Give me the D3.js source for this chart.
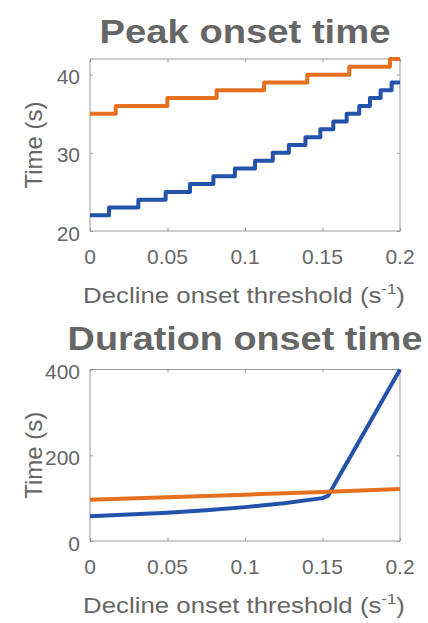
<!DOCTYPE html>
<html><head><meta charset="utf-8">
<script src="https://cdn.jsdelivr.net/npm/d3@7"></script>
<style>
html,body{margin:0;padding:0;background:#fff;}
svg{display:block;font-family:"Liberation Sans",Arial,Helvetica,sans-serif;}
</style></head>
<body><svg id="c" width="428" height="623"></svg>
<script>
// ---- data ----
const xTicks = [0, 0.05, 0.1, 0.15, 0.2];
const xTickLabels = ["0", "0.05", "0.1", "0.15", "0.2"];
const peakYTicks = [20, 30, 40];
const durYTicks = [0, 200, 400];

// Peak onset time (staircases)
const peakBlueX = [0, 0.0123, 0.0312, 0.0488, 0.0645, 0.0796, 0.0935, 0.1065, 0.1179, 0.1283, 0.139, 0.1486, 0.157, 0.1656, 0.1737, 0.1806, 0.1875, 0.1946, 0.2];
const peakBlueY = [22, 23, 24, 25, 26, 27, 28, 29, 30, 31, 32, 33, 34, 35, 36, 37, 38, 39, 39];
const peakOrangeX = [0, 0.0166, 0.0499, 0.0817, 0.1123, 0.1402, 0.1673, 0.1935, 0.2];
const peakOrangeY = [35, 36, 37, 38, 39, 40, 41, 42, 42];

// Duration onset time
const durBlueX = [0, 0.025, 0.05, 0.075, 0.1, 0.125, 0.15, 0.1535, 0.2];
const durBlueY = [58, 62, 66, 72, 79, 88, 100, 105, 400];
const durOrangeX = [0, 0.05, 0.1, 0.15, 0.2];
const durOrangeY = [96, 102, 108, 114.5, 121];

const BLUE = "#2352AB", ORANGE = "#E5701F";
const TXT = "#666666", AX = "#9a9a9a";

const svg = d3.select("#c");

function fitText(sel, targetW) {
  const n = sel.node();
  const w = n.getBBox().width;
  const cx = +sel.attr("data-cx"), by = +sel.attr("data-y");
  sel.attr("x", 0).attr("y", 0).attr("text-anchor", "middle")
     .attr("transform", `translate(${cx},${by}) scale(${targetW / w},1)`);
}

function panel(cfg) {
  const x = d3.scaleLinear().domain([0, 0.2]).range([90, 400]);
  const y = d3.scaleLinear().domain(cfg.ydom).range([cfg.bottom, cfg.top]);
  const g = svg.append("g");

  // box
  g.append("rect").attr("x", 90).attr("y", cfg.top).attr("width", 310).attr("height", cfg.bottom - cfg.top)
    .attr("fill", "none").attr("stroke", AX).attr("stroke-width", 1);

  // inside ticks (bottom/top/left/right)
  const tl = 3;
  g.append("g").attr("transform", `translate(0,${cfg.bottom})`)
    .call(d3.axisBottom(x).tickValues(xTicks).tickSize(-tl).tickFormat(""))
    .call(a => { a.select(".domain").remove(); a.selectAll("line").attr("stroke", AX); });
  g.append("g").attr("transform", `translate(0,${cfg.top})`)
    .call(d3.axisTop(x).tickValues(xTicks).tickSize(-tl).tickFormat(""))
    .call(a => { a.select(".domain").remove(); a.selectAll("line").attr("stroke", AX); });
  g.append("g").attr("transform", `translate(90,0)`)
    .call(d3.axisLeft(y).tickValues(cfg.yticks).tickSize(-tl).tickFormat(""))
    .call(a => { a.select(".domain").remove(); a.selectAll("line").attr("stroke", AX); });
  g.append("g").attr("transform", `translate(400,0)`)
    .call(d3.axisRight(y).tickValues(cfg.yticks).tickSize(-tl).tickFormat(""))
    .call(a => { a.select(".domain").remove(); a.selectAll("line").attr("stroke", AX); });

  // tick labels
  g.selectAll(".xl").data(xTicks).join("text")
    .attr("x", d => x(d)).attr("y", cfg.bottom + 33)
    .attr("text-anchor", "middle").attr("font-size", 21).attr("fill", TXT)
    .text((d, i) => xTickLabels[i]);
  g.selectAll(".yl").data(cfg.yticks).join("text")
    .attr("x", 80).attr("y", d => y(d) + 9.5)
    .attr("text-anchor", "end").attr("font-size", 21).attr("fill", TXT)
    .text(d => d);

  // lines
  cfg.series.forEach(s => {
    const pts = s.x.map((v, i) => [v, s.y[i]]);
    g.append("path").datum(pts)
      .attr("fill", "none").attr("stroke", s.color).attr("stroke-width", 4)
      .attr("stroke-linejoin", "round")
      .attr("d", d3.line().x(d => x(d[0])).y(d => y(d[1])).curve(s.step ? d3.curveStepAfter : d3.curveLinear));
  });

  // title
  const t = g.append("text").attr("data-cx", 245).attr("data-y", cfg.titleY)
    .attr("font-size", 33).attr("font-weight", "bold").attr("fill", TXT).text(cfg.title);
  fitText(t, cfg.titleW);

  // x label
  const xl = g.append("text").attr("data-cx", 244).attr("data-y", cfg.bottom + 72)
    .attr("font-size", 23).attr("fill", TXT);
  xl.append("tspan").text("Decline onset threshold (s");
  xl.append("tspan").attr("font-size", 15).attr("dy", -9).text("-1");
  xl.append("tspan").attr("dy", 9).text(")");
  fitText(xl, 322);

  // y label
  g.append("text").attr("transform", `translate(42,${(cfg.top + cfg.bottom) / 2}) rotate(-90)`)
    .attr("text-anchor", "middle").attr("font-size", 24).attr("fill", TXT).text("Time (s)");
}

panel({ title: "Peak onset time", titleY: 42.5, titleW: 291, top: 59, bottom: 231, ydom: [20, 42], yticks: peakYTicks,
  series: [ { x: peakBlueX, y: peakBlueY, color: BLUE, step: true }, { x: peakOrangeX, y: peakOrangeY, color: ORANGE, step: true } ] });
panel({ title: "Duration onset time", titleY: 350, titleW: 355, top: 369.5, bottom: 541, ydom: [0, 400], yticks: durYTicks,
  series: [ { x: durBlueX, y: durBlueY, color: BLUE, step: false }, { x: durOrangeX, y: durOrangeY, color: ORANGE, step: false } ] });
</script></body></html>
